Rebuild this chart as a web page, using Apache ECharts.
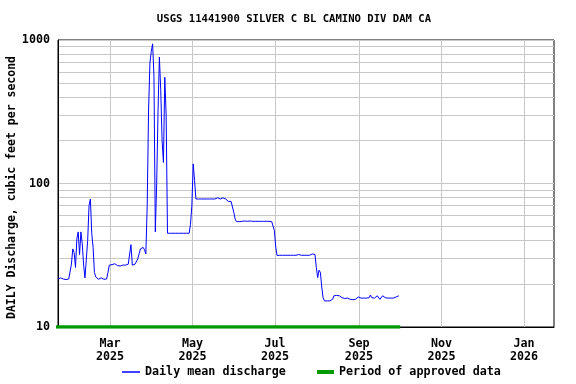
<!DOCTYPE html>
<html><head><meta charset="utf-8">
<script src="https://cdn.jsdelivr.net/npm/echarts@6/dist/echarts.min.js"></script>
<style>html,body{margin:0;padding:0;background:#fff}#c{width:576px;height:384px}</style>
</head><body><div id="c"></div>
<script>
const titleText = 'USGS 11441900 SILVER C BL CAMINO DIV DAM CA';
const yAxisName = 'DAILY Discharge, cubic feet per second';
const seriesNames = ['Daily mean discharge', 'Period of approved data'];
const firstDay = '2025-01-21';
// daily mean discharge, cfs, one value per day from firstDay
const dailyMeanDischarge = [
  21.6, 21.6, 22.0, 21.6, 21.6, 21.6, 21.4, 21.6, 21.6, 21.6,
  27.4, 35, 33, 26, 41, 46, 32, 46, 38, 27, 22, 21.5,
  40, 70, 78, 45, 36, 24, 22.3, 22,
  21.5, 21.5, 22, 21.5, 21.5, 21.5, 21.6,
  24, 27, 27, 27.2, 27, 27.6, 27, 26.8, 27, 26.6, 27, 27, 27.2, 27, 27, 27.4, 28,
  37.5, 27, 27, 27.4, 28, 29.8, 32.3, 35, 35.9, 35.9, 34.5, 32.3,
  70, 320, 690, 830, 940, 560, 46, 100, 315, 760, 450, 200, 140, 550, 300, 45,
  45, 45, 45.2, 45, 45, 45, 45, 45, 45, 45, 45, 45, 46, 45, 45, 45,
  52, 70, 137, 105,
  78, 78, 78, 78, 78, 78, 78, 78, 78, 79.5, 78, 79.5, 78, 78, 78, 78, 79.5, 78, 78, 78, 79.5, 78,
  78, 76.5, 75, 75, 75, 75,
  63, 56.5, 54.2,
  54.5, 54.2, 54.8, 54.5, 54.5, 54.8, 54.3, 54.5, 54.5, 54.8, 54.5, 54.5, 54.3, 54.5,
  54.5, 54.5, 54.2, 54.5, 54.5, 54.5, 54.3, 54.5, 54.5, 54.5, 54.5, 54.3, 54.5,
  47, 36,
  31.5, 31.6, 31.6, 32.3, 31.6, 32, 31.6, 31.5, 31.6, 31.6, 31.6, 32, 31.6, 31.5, 31.6,
  31.6, 32, 31.6, 31.6, 31.5, 31.6, 31.6, 31.6, 31.5, 31.6, 31.6, 32.3, 32.7, 32,
  26, 22.1, 24.9, 24, 19, 16,
  15.2, 15.2, 15.2, 15.2, 15.2, 15.3,
  15.6, 16.5, 16.2, 16.6, 16.2, 16.5,
  16.5, 16.0, 15.6, 15.8, 15.9, 15.9, 15.9, 15.6, 15.8, 15.5, 15.2, 15.6, 15.9, 16.2, 15.9,
  15.9, 15.9, 15.9, 15.9, 15.9, 16.0, 16.0, 16.7, 16.0, 15.9, 15.9, 16.2, 16.5, 16.5, 15.6,
  16.0, 16.5, 16.5, 16.0, 15.9, 15.9, 15.9, 15.9, 15.9, 15.9, 15.9, 16.2, 16.5, 16.5
];
const approvedPeriod = ['2025-01-01T00:00:00Z', '2025-10-01T12:00:00Z'];
const xRange = ['2025-01-21T13:40:00Z', '2026-01-23T04:00:00Z'];
const xTickDates = ['2025-03-01', '2025-05-01', '2025-07-01', '2025-09-01', '2025-11-01', '2026-01-01'];
const xTickLabels = ['Mar\n2025', 'May\n2025', 'Jul\n2025', 'Sep\n2025', 'Nov\n2025', 'Jan\n2026'];
const yTickLabels = [10, 100, 1000];
const yGridValues = [10, 20, 30, 40, 50, 60, 70, 80, 90, 100, 200, 300, 400, 500, 600, 700, 800, 900, 1000];

const DAY = 86400000;
const t0 = Date.parse(firstDay);
const flowData = dailyMeanDischarge.map((v, i) => [t0 + (i + 0.5) * DAY, v]);
const approvedData = approvedPeriod.map(d => [Date.parse(d), 10]);
const xTickValues = xTickDates.map(d => Date.parse(d));
const FONT = "'DejaVu Sans Mono', monospace";
const txt = { fontFamily: FONT, fontWeight: 'bold', fontSize: 11.7, color: '#000' };

const chart = echarts.init(document.getElementById('c'), null, { renderer: 'canvas' });
chart.setOption({
  animation: false,
  backgroundColor: '#fff',
  title: {
    text: titleText, left: 294, top: 14, textAlign: 'center', padding: 0,
    textStyle: Object.assign({}, txt, { fontSize: 10.6 })
  },
  legend: [
    { data: [seriesNames[0]], left: 122, top: 366, padding: 0, icon: 'rect', itemWidth: 18, itemHeight: 1.5, textStyle: Object.assign({}, txt) },
    { data: [seriesNames[1]], left: 317, top: 366, padding: 0, icon: 'rect', itemWidth: 17, itemHeight: 4, textStyle: Object.assign({}, txt) }
  ],
  grid: { left: 58, right: 22, top: 40, bottom: 57, outerBoundsMode: 'none', containLabel: false, show: true, borderColor: '#000', borderWidth: 1, backgroundColor: '#fff' },
  xAxis: {
    type: 'value',
    min: Date.parse(xRange[0]), max: Date.parse(xRange[1]),
    axisLine: { show: true, lineStyle: { color: '#000', width: 1 } },
    axisTick: { show: false, customValues: xTickValues },
    splitLine: { show: true, lineStyle: { color: '#c8c8c8', width: 1 } },
    axisLabel: {
      customValues: xTickValues, margin: 10, lineHeight: 13,
      fontFamily: FONT, fontWeight: 'bold', fontSize: 11.7, color: '#000',
      formatter: function (val) { const i = xTickValues.indexOf(val); return i >= 0 ? xTickLabels[i] : ''; }
    }
  },
  yAxis: {
    type: 'log', logBase: 10, min: 10, max: 1000,
    name: yAxisName, nameLocation: 'middle', nameGap: 40, nameMoveOverlap: false,
    nameTextStyle: Object.assign({}, txt, { fontSize: 11.5, padding: [0, 8, 0, 0] }),
    axisLine: { show: true, lineStyle: { color: '#000', width: 1 } },
    axisTick: { show: false, customValues: yGridValues },
    splitLine: { show: true, lineStyle: { color: '#c8c8c8', width: 1 } },
    axisLabel: {
      customValues: yTickLabels, margin: 8,
      fontFamily: FONT, fontWeight: 'bold', fontSize: 11.7, color: '#000',
      formatter: function (v) { return String(Math.round(v)); }
    }
  },
  series: [
    {
      name: seriesNames[0], type: 'line', data: flowData, showSymbol: false, symbol: 'none',
      color: '#0000ff', lineStyle: { color: '#0000ff', width: 1 }, z: 3
    },
    {
      name: seriesNames[1], type: 'line', data: approvedData, showSymbol: false, symbol: 'none',
      color: '#009900', lineStyle: { color: '#009900', width: 3.5 }, z: 2
    }
  ]
});
</script></body></html>
